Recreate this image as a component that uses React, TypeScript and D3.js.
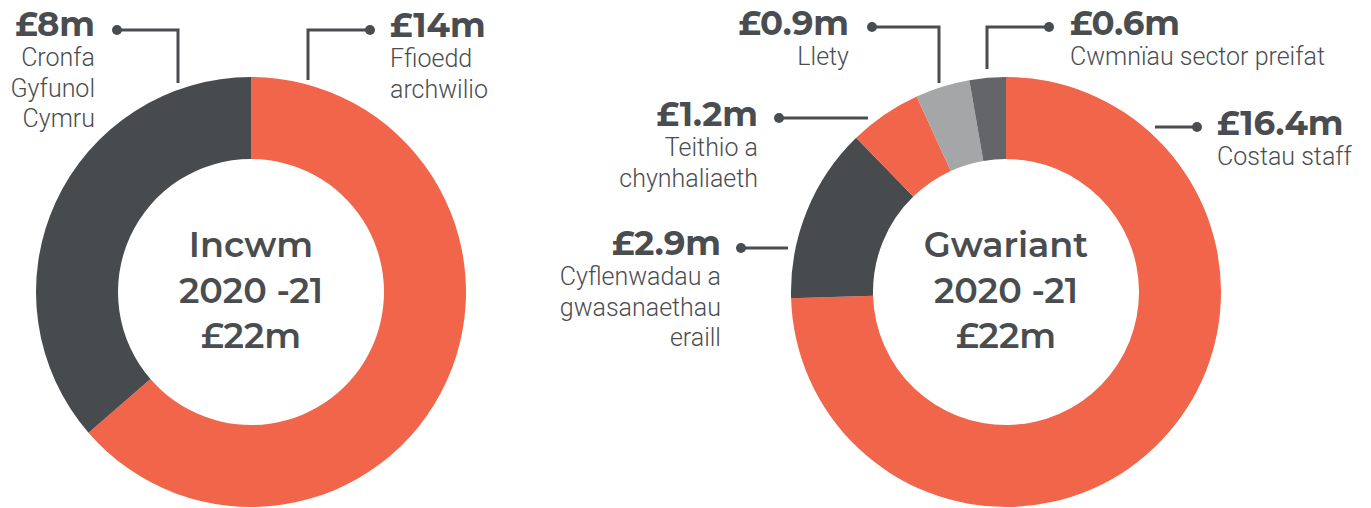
import React from "react";
import * as d3 from "d3";

const incomeLabels = ["Ffioedd archwilio", "Cronfa Gyfunol Cymru"];
const incomeValues = [14, 8];
const incomeColors = ["#F1654A", "#484B4E"];

const spendLabels = ["Costau staff", "Cyflenwadau a gwasanaethau eraill", "Teithio a chynhaliaeth", "Llety", "Cwmnïau sector preifat"];
const spendValues = [16.4, 2.9, 1.2, 0.9, 0.6];
const spendColors = ["#F1654A", "#484B4E", "#F1654A", "#A5A6A8", "#636568"];

const TXT = "#4A4D50";
const BOLD = "Montserrat, 'Open Sans', Lato, sans-serif";
const LIGHT = "Roboto, 'Liberation Sans', sans-serif";

type Callout = {
  value: string;
  lines: string[];
  anchor: "start" | "end";
  tx: number; ty: number;
  pts: [number, number][];
};

const incomeCallouts: Callout[] = [
  { value: "£14m", lines: ["Ffioedd", "archwilio"], anchor: "start", tx: 390, ty: 37, pts: [[370, 30], [308, 30], [308, 80]] },
  { value: "£8m", lines: ["Cronfa", "Gyfunol", "Cymru"], anchor: "end", tx: 95, ty: 36, pts: [[117, 30], [178, 30], [178, 83]] },
];
const spendCallouts: Callout[] = [
  { value: "£16.4m", lines: ["Costau staff"], anchor: "start", tx: 1217, ty: 135, pts: [[1197, 127], [1155, 127]] },
  { value: "£2.9m", lines: ["Cyflenwadau a", "gwasanaethau", "eraill"], anchor: "end", tx: 721, ty: 255, pts: [[741, 248], [788, 248]] },
  { value: "£1.2m", lines: ["Teithio a", "chynhaliaeth"], anchor: "end", tx: 758, ty: 126, pts: [[779, 118], [868, 118]] },
  { value: "£0.9m", lines: ["Llety"], anchor: "end", tx: 849, ty: 35, pts: [[872, 27], [939, 27], [939, 83]] },
  { value: "£0.6m", lines: ["Cwmnïau sector preifat"], anchor: "start", tx: 1070, ty: 35, pts: [[1049, 27], [987, 27], [987, 69]] },
];

function Donut({ cx, cy, values, colors, title }: { cx: number; cy: number; values: number[]; colors: string[]; title: string }) {
  const pie = d3.pie<number>().sort(null).value((d) => d);
  const arc = d3.arc<d3.PieArcDatum<number>>().innerRadius(133).outerRadius(215);
  const arcs = pie(values);
  return (
    <g transform={`translate(${cx},${cy})`}>
      {arcs.map((a, i) => (
        <path key={i} d={arc(a) || ""} fill={colors[i]} />
      ))}
      <g fontFamily={BOLD} fontWeight={600} fontSize={35} fill={TXT} textAnchor="middle">
        <text y={-35}>{title}</text>
        <text y={11}>2020 -21</text>
        <text y={56}>£22m</text>
      </g>
    </g>
  );
}

function Callouts({ items }: { items: Callout[] }) {
  const line = d3.line();
  return (
    <g>
      {items.map((c, i) => (
        <g key={i}>
          <path d={line(c.pts) || ""} fill="none" stroke={TXT} strokeWidth={3} />
          <circle cx={c.pts[0][0]} cy={c.pts[0][1]} r={5} fill={TXT} />
          <text x={c.tx} y={c.ty} textAnchor={c.anchor} fontFamily={BOLD} fontWeight={700} fontSize={34} fill={TXT}>{c.value}</text>
          {c.lines.map((l, j) => (
            <text key={j} x={c.tx} y={c.ty + 30 + 30.5 * j} textAnchor={c.anchor} fontFamily={LIGHT} fontWeight={300} fontSize={25} fill={TXT}>{l}</text>
          ))}
        </g>
      ))}
    </g>
  );
}

export default function App() {
  return (
    <svg width={1371} height={508} style={{ position: "absolute", left: 0, top: 0, background: "#fff" }}>
      <Donut cx={251} cy={292} values={incomeValues} colors={incomeColors} title="Incwm" />
      <Donut cx={1006} cy={292} values={spendValues} colors={spendColors} title="Gwariant" />
      <Callouts items={incomeCallouts} />
      <Callouts items={spendCallouts} />
    </svg>
  );
}
